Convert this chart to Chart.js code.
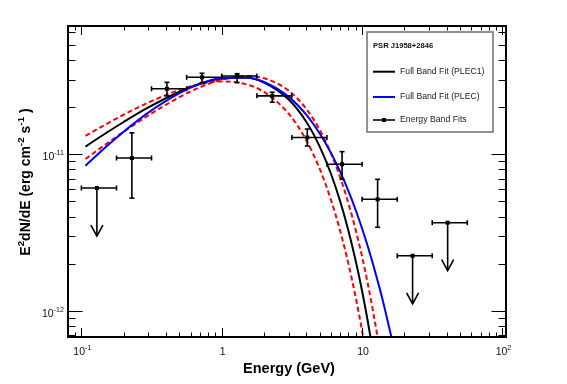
<!DOCTYPE html>
<html><head><meta charset="utf-8">
<script src="https://cdn.jsdelivr.net/npm/chart.js@4.4.1/dist/chart.umd.min.js"></script>
<style>html,body{margin:0;padding:0;background:#fff}canvas{display:block}</style>
</head><body>
<canvas id="c" width="567" height="384"></canvas>
<script>
// ---------- data ----------
const bandE   = [0.129, 0.229, 0.407, 0.724, 1.288, 2.29, 4.07, 7.2, 12.9, 22.9, 40.7];
const bandELo = [0.1, 0.178, 0.316, 0.562, 1.0, 1.78, 3.16, 5.62, 10, 17.8, 31.6];
const bandEHi = [0.178, 0.316, 0.562, 1.0, 1.78, 3.16, 5.62, 10, 17.8, 31.6, 56.2];
const bandF   = [6.09e-12, 9.47e-12, 2.62e-11, 3.10e-11, 3.16e-11, 2.36e-11, 1.28e-11, 8.64e-12, 5.16e-12, 2.25e-12, 3.66e-12];
const bandFLo = [null, 5.25e-12, 2.36e-11, 2.87e-11, 2.87e-11, 2.15e-11, 1.13e-11, 6.92e-12, 3.42e-12, null, null];
const bandFHi = [null, 1.37e-11, 2.88e-11, 3.29e-11, 3.27e-11, 2.49e-11, 1.45e-11, 1.04e-11, 6.92e-12, null, null];
const isUpperLimit = [true, false, false, false, false, false, false, false, false, true, true];

const plec1E = [0.107, 0.15, 0.2, 0.3, 0.5, 0.7, 1, 1.5, 2, 3, 4, 5, 6, 7, 8, 9, 10, 11, 12, 13];
const plec1F = [1.12e-11, 1.367e-11, 1.607e-11, 1.990e-11, 2.508e-11, 2.820e-11, 3.051e-11, 3.076e-11, 2.869e-11, 2.236e-11, 1.613e-11, 1.116e-11, 7.51e-12, 4.97e-12, 3.24e-12, 2.09e-12, 1.34e-12, 8.5e-13, 5.4e-13, 3.4e-13];

const plecE = [0.107, 0.15, 0.2, 0.3, 0.5, 0.7, 1, 1.5, 2, 3, 4, 5, 6, 7, 8, 9, 10, 11, 12, 13, 14, 16, 17];
const plecF = [8.46e-12, 1.118e-11, 1.394e-11, 1.845e-11, 2.456e-11, 2.814e-11, 3.066e-11, 3.09e-11, 2.893e-11, 2.326e-11, 1.789e-11, 1.353e-11, 1.021e-11, 7.69e-12, 5.81e-12, 4.41e-12, 3.36e-12, 2.57e-12, 1.97e-12, 1.52e-12, 1.18e-12, 7.1e-13, 5.6e-13];

const errAE = [0.107, 0.15, 0.2, 0.3, 0.5, 0.7, 1, 1.5, 2, 3, 4, 5, 6, 7, 8, 9, 10, 11];
const errAF = [1.31e-11, 1.556e-11, 1.788e-11, 2.139e-11, 2.575e-11, 2.800e-11, 2.915e-11, 2.794e-11, 2.500e-11, 1.815e-11, 1.231e-11, 8.04e-12, 5.12e-12, 3.215e-12, 1.993e-12, 1.225e-12, 7.47e-13, 4.53e-13];

const errBE = [0.107, 0.15, 0.2, 0.3, 0.5, 0.7, 1, 1.5, 2, 3, 4, 5, 6, 7, 8, 9, 10, 11, 12, 13, 14];
const errBF = [9.33e-12, 1.162e-11, 1.392e-11, 1.771e-11, 2.316e-11, 2.677e-11, 2.995e-11, 3.156e-11, 3.059e-11, 2.548e-11, 1.952e-11, 1.428e-11, 1.0155e-11, 7.073e-12, 4.855e-12, 3.298e-12, 2.219e-12, 1.482e-12, 9.84e-13, 6.51e-13, 4.28e-13];

const xMajorTicks = [0.1, 1, 10, 100];
const xTickLabels = [['10', '-1'], ['1', ''], ['10', ''], ['10', '2']];
const yMajorTicks = [1e-12, 1e-11];
const yTickLabels = [['10', '-12'], ['10', '-11']];

const legendTitle = 'PSR J1958+2846';
const legendLabels = ['Full Band Fit (PLEC1)', 'Full Band Fit (PLEC)', 'Energy Band Fits'];
const xTitle = 'Energy (GeV)';
const yTitle = [['E', 0], ['2', 1], ['dN/dE (erg cm', 0], ['-2', 1], [' s', 0], ['-1', 1], [' )', 0]];

// ---------- drawing ----------
const FONT = '"Liberation Sans", Arial, Helvetica, sans-serif';
const pts = (E, F) => E.map((e, i) => ({x: e, y: F[i]}));

function rich(ctx, segs, x, y, size, weight, align, supScale, riseScale) {
  const sup = size * (supScale || 0.7), rise = size * (riseScale || 0.42);
  let w = 0;
  const items = segs.map(([t, s]) => {
    ctx.font = `${weight} ${s ? sup : size}px ${FONT}`;
    const m = ctx.measureText(t).width; w += m; return {t, s, m};
  });
  let cx = align === 'center' ? x - w / 2 : align === 'right' ? x - w : x;
  ctx.textAlign = 'left'; ctx.textBaseline = 'alphabetic';
  items.forEach(it => {
    ctx.font = `${weight} ${it.s ? sup : size}px ${FONT}`;
    ctx.fillText(it.t, cx, it.s ? y - rise : y); cx += it.m;
  });
}
function seg(ctx, x1, y1, x2, y2) { ctx.beginPath(); ctx.moveTo(x1, y1); ctx.lineTo(x2, y2); ctx.stroke(); }

const decor = {
  id: 'decor',
  beforeDraw(chart) {
    const c = chart.ctx; c.save(); c.fillStyle = '#fff'; c.fillRect(0, 0, chart.width, chart.height); c.restore();
  },
  afterDatasetsDraw(chart) {
    const c = chart.ctx, xs = chart.scales.x, ys = chart.scales.y;
    c.save();
    c.strokeStyle = '#000'; c.fillStyle = '#000'; c.lineWidth = 1.6;
    bandE.forEach((e, i) => {
      const px = xs.getPixelForValue(e), py = ys.getPixelForValue(bandF[i]);
      const x1 = xs.getPixelForValue(bandELo[i]), x2 = xs.getPixelForValue(bandEHi[i]);
      seg(c, x1, py, x2, py);
      seg(c, x1, py - 2.5, x1, py + 2.5); seg(c, x2, py - 2.5, x2, py + 2.5);
      if (isUpperLimit[i]) {
        const tip = py + 48;
        seg(c, px, py, px, tip);
        c.beginPath(); c.moveTo(px - 6, tip - 11); c.lineTo(px, tip); c.lineTo(px + 6, tip - 11); c.stroke();
      } else {
        const y1 = ys.getPixelForValue(bandFHi[i]), y2 = ys.getPixelForValue(bandFLo[i]);
        seg(c, px, y1, px, y2);
        seg(c, px - 2.5, y1, px + 2.5, y1); seg(c, px - 2.5, y2, px + 2.5, y2);
      }
      c.fillRect(px - 2, py - 2, 4, 4);
    });
    c.restore();
  },
  afterDraw(chart) {
    const c = chart.ctx, xs = chart.scales.x, ys = chart.scales.y, a = chart.chartArea;
    c.save();
    // ticks
    c.strokeStyle = '#000'; c.lineWidth = 1;
    for (let e = -2; e <= 2; e++) for (let m = 1; m <= 9; m++) {
      const v = m * Math.pow(10, e);
      if (v < xs.min || v > xs.max) continue;
      const px = Math.round(xs.getPixelForValue(v)) + 0.5;
      const major = xMajorTicks.some(t => Math.abs(t / v - 1) < 1e-6);
      const L = major ? 9 : 4.5;
      seg(c, px, a.bottom, px, a.bottom - L);
      seg(c, px, a.top, px, a.top + L);
    }
    for (let e = -13; e <= -10; e++) for (let m = 1; m <= 9; m++) {
      const v = m * Math.pow(10, e);
      if (v < ys.min || v > ys.max) continue;
      const py = Math.round(ys.getPixelForValue(v)) + 0.5;
      const major = yMajorTicks.some(t => Math.abs(t / v - 1) < 1e-6);
      const L = major ? 14.5 : 7.5;
      seg(c, a.left, py, a.left + L, py);
      seg(c, a.right, py, a.right - L, py);
    }
    // frame
    c.lineWidth = 2; c.strokeStyle = '#000';
    c.strokeRect(a.left, a.top, a.right - a.left, a.bottom - a.top);
    // tick labels
    c.fillStyle = '#111';
    xMajorTicks.forEach((v, i) => {
      const lab = xTickLabels[i];
      rich(c, [[lab[0], 0], [lab[1], 1]], xs.getPixelForValue(v) + 1, 355, 10.5, 'normal', 'center', 0.68, 0.45);
    });
    yMajorTicks.forEach((v, i) => {
      const lab = yTickLabels[i];
      rich(c, [[lab[0], 0], [lab[1], 1]], 64, ys.getPixelForValue(v) + 5.8, 10.5, 'normal', 'right', 0.68, 0.45);
    });
    // axis titles
    c.fillStyle = '#000';
    rich(c, [[xTitle, 0]], 289, 373, 14.5, 'bold', 'center');
    c.save(); c.translate(30, 182); c.rotate(-Math.PI / 2);
    rich(c, yTitle, 0, 0, 14, 'bold', 'center', 0.7, 0.45);
    c.restore();
    // legend
    const L = {x: 367, y: 32, w: 126, h: 100};
    c.fillStyle = '#fff'; c.fillRect(L.x, L.y, L.w, L.h);
    c.strokeStyle = '#777'; c.lineWidth = 1.6; c.strokeRect(L.x, L.y, L.w, L.h);
    c.fillStyle = '#111';
    c.font = `bold 7.6px ${FONT}`; c.textAlign = 'left'; c.textBaseline = 'middle';
    c.fillText(legendTitle, 373, 46);
    const rows = [71.7, 97, 120];
    const cols = ['#000', '#0000ff', '#000'];
    rows.forEach((ry, i) => {
      c.strokeStyle = cols[i]; c.lineWidth = i === 2 ? 1.6 : 2;
      seg(c, 373, ry, 395, ry);
      if (i === 2) { c.fillStyle = '#000'; c.fillRect(382, ry - 2, 4, 4); }
      c.fillStyle = '#222'; c.font = `8.7px ${FONT}`;
      c.fillText(legendLabels[i], 400, ry);
    });
    c.restore();
  }
};

const lineDs = (label, data, color, dash, width) => ({
  type: 'line', label, data, borderColor: color, borderWidth: width, borderDash: dash,
  pointRadius: 0, fill: false, cubicInterpolationMode: 'monotone', showLine: true
});

new Chart(document.getElementById('c'), {
  type: 'line',
  data: {
    datasets: [
      lineDs('Full Band Fit (PLEC)', pts(plecE, plecF), '#0000ff', [], 2),
      lineDs('Full Band Fit (PLEC1)', pts(plec1E, plec1F), '#000000', [], 2),
      lineDs('PLEC1 error A', pts(errAE, errAF), '#ff0000', [5, 3], 2),
      lineDs('PLEC1 error B', pts(errBE, errBF), '#ff0000', [5, 3], 2),
      {type: 'scatter', label: 'Energy Band Fits', data: pts(bandE, bandF), pointRadius: 0, showLine: false}
    ]
  },
  options: {
    responsive: false, animation: false, devicePixelRatio: 1,
    layout: {padding: {left: 68, top: 26, right: 61, bottom: 47}},
    plugins: {legend: {display: false}, tooltip: {enabled: false}},
    scales: {
      x: {type: 'logarithmic', min: 0.0803, max: 106, display: false},
      y: {type: 'logarithmic', min: 6.82e-13, max: 6.59e-11, display: false}
    }
  },
  plugins: [decor]
});
</script>
</body></html>
